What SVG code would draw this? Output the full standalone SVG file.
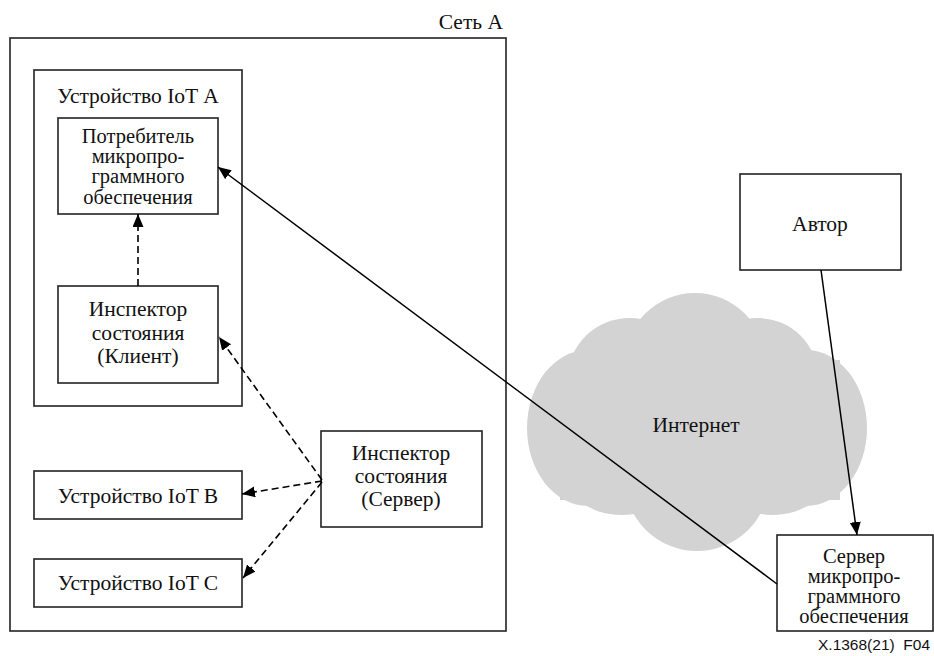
<svg xmlns="http://www.w3.org/2000/svg" width="934" height="656" viewBox="0 0 934 656">
  <style>
    .box { fill: #ffffff; stroke: #222222; stroke-width: 1.6; }
    .frame { fill: none; stroke: #222222; stroke-width: 1.6; }
    .lbl { font-family: "Liberation Serif", "Times New Roman", serif; font-size: 21.5px; fill: #111111; text-anchor: middle; }
    .tight { font-size: 20.5px; }
    .solid { fill: none; stroke: #000000; stroke-width: 1.5; }
    .dash { fill: none; stroke: #000000; stroke-width: 1.6; stroke-dasharray: 7 4; }
    .cloud { fill: #d3d3d3; stroke: none; }
    .tag { font-family: "Liberation Sans", Arial, sans-serif; font-size: 15.5px; fill: #111111; text-anchor: end; }
  </style>
  <defs>
    <marker id="head" markerUnits="userSpaceOnUse" markerWidth="14" markerHeight="12" refX="13" refY="5.5" orient="auto">
      <path d="M0,0 L13,5.5 L0,11 z" fill="#000000"/>
    </marker>
  </defs>

  <rect width="934" height="656" fill="#ffffff"/>

  <!-- Internet cloud -->
  <g id="internet">
    <g class="cloud">
      <ellipse cx="588" cy="428" rx="61" ry="78"/>
      <ellipse cx="806" cy="428" rx="61" ry="78"/>
      <ellipse cx="630" cy="378" rx="62" ry="60"/>
      <ellipse cx="695" cy="362" rx="70" ry="69"/>
      <ellipse cx="758" cy="378" rx="60" ry="60"/>
      <ellipse cx="622" cy="465" rx="62" ry="50"/>
      <ellipse cx="697" cy="480" rx="72" ry="71"/>
      <ellipse cx="772" cy="465" rx="62" ry="50"/>
      <rect x="560" y="360" width="280" height="140"/>
    </g>
    <text class="lbl" x="696" y="432">Интернет</text>
  </g>

  <!-- Network A frame -->
  <g id="network-a">
    <rect class="frame" x="10" y="38" width="496" height="593"/>
    <text class="lbl" x="503" y="29" style="text-anchor:end">Сеть А</text>
  </g>

  <!-- IoT device A with its parts -->
  <g id="device-a">
    <rect class="frame" x="34" y="70" width="208" height="336"/>
    <text class="lbl" x="138" y="103">Устройство IoT А</text>
  </g>

  <g id="fw-consumer">
    <rect class="box" x="58" y="118" width="160" height="96"/>
    <text class="lbl tight" x="138" y="143">Потребитель</text>
    <text class="lbl tight" x="138" y="163">микропро-</text>
    <text class="lbl tight" x="138" y="183">граммного</text>
    <text class="lbl tight" x="138" y="204">обеспечения</text>
  </g>

  <g id="inspector-client">
    <rect class="box" x="58" y="286" width="160" height="97"/>
    <text class="lbl" x="138" y="316">Инспектор</text>
    <text class="lbl" x="138" y="340">состояния</text>
    <text class="lbl" x="138" y="363">(Клиент)</text>
  </g>

  <g id="device-b">
    <rect class="box" x="34" y="471" width="208" height="48"/>
    <text class="lbl" x="138" y="503">Устройство IoT В</text>
  </g>

  <g id="device-c">
    <rect class="box" x="34" y="559" width="208" height="48"/>
    <text class="lbl" x="138" y="590">Устройство IoT С</text>
  </g>

  <g id="inspector-server">
    <rect class="box" x="321" y="431" width="161" height="96"/>
    <text class="lbl" x="401" y="460">Инспектор</text>
    <text class="lbl" x="401" y="483">состояния</text>
    <text class="lbl" x="401" y="506">(Сервер)</text>
  </g>

  <g id="author">
    <rect class="box" x="740" y="174" width="161" height="96"/>
    <text class="lbl" x="820" y="231">Автор</text>
  </g>

  <g id="fw-server">
    <rect class="box" x="777" y="535" width="156" height="96"/>
    <text class="lbl tight" x="854" y="563">Сервер</text>
    <text class="lbl tight" x="854" y="583">микропро-</text>
    <text class="lbl tight" x="854" y="603">граммного</text>
    <text class="lbl tight" x="854" y="623">обеспечения</text>
  </g>

  <!-- Connectors -->
  <g id="connectors">
    <line class="solid" x1="777" y1="584" x2="218" y2="167" marker-end="url(#head)"/>
    <line class="solid" x1="821" y1="270" x2="857" y2="535" marker-end="url(#head)"/>
    <line class="dash" x1="138" y1="286" x2="138" y2="214" marker-end="url(#head)"/>
    <line class="dash" x1="322" y1="480" x2="219" y2="337" marker-end="url(#head)"/>
    <line class="dash" x1="322" y1="481" x2="242" y2="494" marker-end="url(#head)"/>
    <line class="dash" x1="322" y1="482" x2="243" y2="578" marker-end="url(#head)"/>
  </g>

  <text class="tag" x="930" y="650" xml:space="preserve">X.1368(21)  F04</text>
</svg>
